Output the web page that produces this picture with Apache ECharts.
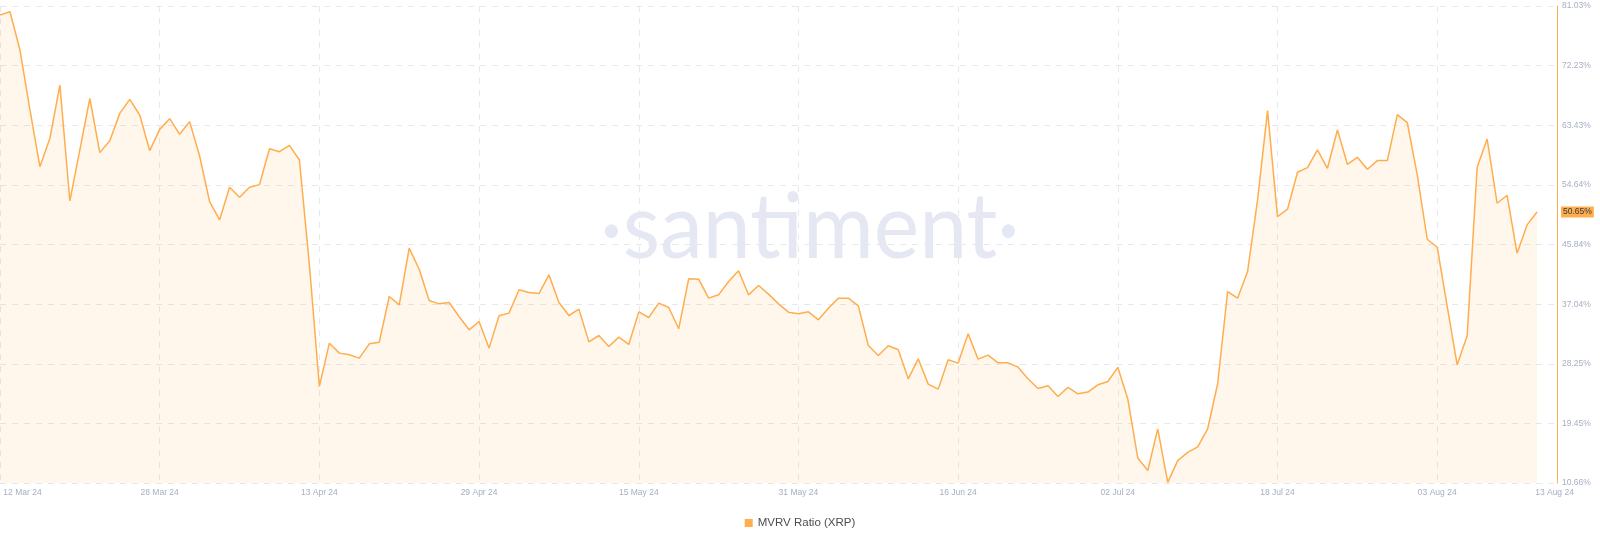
<!DOCTYPE html>
<html>
<head>
<meta charset="utf-8">
<script src="https://cdn.jsdelivr.net/npm/echarts@6/dist/echarts.min.js"></script>
<style>
  html, body { margin: 0; padding: 0; background: #ffffff; }
  #chart { width: 1600px; height: 542px; }
</style>
</head>
<body>
<div id="chart"></div>
<script>
// MVRV Ratio (XRP), daily values in %, 12 Mar 2024 .. 13 Aug 2024
const mar = [79.69, 80.18, 74.53, 65.69, 57.33, 61.51, 69.37, 52.27, 59.79, 67.40,
             59.40, 61.16, 65.19, 67.26, 64.95, 59.69, 62.83, 64.41, 62.10, 63.97];
const apr = [58.90, 52.17, 49.47, 54.28, 52.81, 54.28, 54.68, 59.98, 59.54, 60.48,
             58.31, 42.84, 24.91, 31.29, 29.82, 29.57, 29.08, 31.19, 31.44, 38.17,
             36.94, 45.30, 42.20, 37.58, 37.09, 37.29, 35.22, 33.26, 34.49, 30.56];
const may = [35.32, 35.72, 39.16, 38.76, 38.61, 41.37, 37.29, 35.37, 36.31, 31.49,
             32.42, 30.80, 32.18, 31.10, 35.90, 35.08, 37.19, 36.55, 33.41, 40.78,
             40.73, 37.93, 38.42, 40.38, 41.96, 38.42, 39.79, 38.52, 37.09, 35.86, 35.62];
const jun = [35.91, 34.73, 36.45, 37.93, 37.93, 36.80, 30.95, 29.47, 30.90, 30.31,
             26.03, 28.98, 25.25, 24.51, 28.84, 28.35, 32.67, 28.93, 29.52, 28.39,
             28.39, 27.75, 26.03, 24.61, 25.00, 23.43, 24.76, 23.82, 24.07, 25.15];
const jul = [25.64, 27.71, 23.04, 14.34, 12.50, 18.64, 10.75, 13.97, 15.18, 15.98,
             18.66, 25.30, 38.91, 37.93, 41.86, 52.42, 65.59, 49.96, 51.05, 56.50,
             57.19, 59.79, 57.09, 62.74, 57.68, 58.71, 56.94, 58.22, 58.22, 65.00, 63.82];
const aug = [56.11, 46.62, 45.44, 36.70, 28.10, 32.37, 57.24, 61.41, 51.93, 53.11,
             44.56, 48.74, 50.65];

const yTicks = [10.66, 19.45, 28.25, 37.04, 45.84, 54.64, 63.43, 72.23, 81.03];
const monthNames = ['Jan','Feb','Mar','Apr','May','Jun','Jul','Aug','Sep','Oct','Nov','Dec'];
const startDate = [2024, 2, 12];   // 12 Mar 2024
const labelEvery = 16;
const extraSlots = 2;              // empty room after the last day
const seriesName = 'MVRV Ratio (XRP)';

const values = [].concat(mar, apr, may, jun, jul, aug);
const lastIndex = values.length - 1;
const lastValue = values[lastIndex];

const categories = [];
for (let i = 0; i < values.length + extraSlots; i++) {
  const d = new Date(Date.UTC(startDate[0], startDate[1], startDate[2] + i));
  const dd = String(d.getUTCDate()).padStart(2, '0');
  categories.push(dd + ' ' + monthNames[d.getUTCMonth()] + ' ' + String(d.getUTCFullYear()).slice(2));
}

const orange = '#ffad4d';
const gridColor = '#e6e8f0';
const labelColor = '#a7aec4';
const fontFam = '"Liberation Sans", Arial, sans-serif';

const chart = echarts.init(document.getElementById('chart'), null, { renderer: 'canvas' });
chart.setOption({
  animation: false,
  backgroundColor: '#ffffff',
  grid: { left: 0, right: 43, top: 6, bottom: 59, containLabel: false },
  graphic: [{
    type: 'text',
    x: 810,
    y: 183,
    scaleX: 0.945,
    z: 0,
    silent: true,
    style: {
      text: '·santiment·',
      x: 0,
      y: 0,
      align: 'center',
      verticalAlign: 'top',
      font: '400 91px Lato, "Open Sans", sans-serif',
      fill: '#e5e8f3'
    }
  }],
  legend: {
    bottom: 8,
    left: 'center',
    icon: 'rect',
    itemWidth: 8,
    itemHeight: 8,
    itemGap: 10,
    textStyle: { color: '#4d4d4d', fontSize: 11.5, fontFamily: fontFam },
    data: [seriesName]
  },
  xAxis: {
    type: 'category',
    boundaryGap: false,
    data: categories,
    axisLine: { show: false },
    axisTick: { show: false },
    axisLabel: {
      color: labelColor,
      fontSize: 8.5,
      fontFamily: fontFam,
      margin: 5,
      interval: function (idx) { return idx % labelEvery === 0 || idx === lastIndex; },
      formatter: function (val, idx) {
        if (idx === 0) return '{first|' + val + '}';
        if (idx === lastIndex) return '{last|' + val + '}';
        return val;
      },
      rich: {
        first: { color: labelColor, fontSize: 8.5, fontFamily: fontFam, padding: [0, 0, 0, 45] },
        last: { color: labelColor, fontSize: 8.5, fontFamily: fontFam, padding: [0, 0, 0, 35] }
      }
    },
    splitLine: {
      show: true,
      interval: function (idx) { return idx % labelEvery === 0 && idx <= lastIndex; },
      lineStyle: { color: gridColor, type: [6, 6], width: 1 }
    }
  },
  yAxis: {
    type: 'value',
    position: 'right',
    min: yTicks[0],
    max: yTicks[yTicks.length - 1],
    axisLine: { show: true, lineStyle: { color: orange, width: 1 } },
    axisTick: { show: false, customValues: yTicks },
    axisLabel: {
      customValues: yTicks,
      color: labelColor,
      fontSize: 8.5,
      fontFamily: fontFam,
      margin: 5,
      formatter: function (v) { return v.toFixed(2) + '%'; }
    },
    splitLine: { show: true, lineStyle: { color: gridColor, type: [6, 6], width: 1 } }
  },
  series: [{
    name: seriesName,
    type: 'line',
    data: values,
    symbol: 'none',
    z: 3,
    clip: false,
    lineStyle: { color: orange, width: 1.5 },
    itemStyle: { color: orange },
    areaStyle: { color: 'rgba(255,173,77,0.15)' },
    markLine: {
      silent: true,
      symbol: ['none', 'none'],
      lineStyle: { color: 'rgba(0,0,0,0)', width: 1, type: 'solid' },
      data: [{ yAxis: lastValue }],
      label: {
        show: true,
        position: 'end',
        distance: 4,
        formatter: lastValue.toFixed(2) + '%',
        backgroundColor: orange,
        color: '#3b3b3b',
        fontSize: 8.5,
        fontFamily: fontFam,
        padding: [1, 2, 1, 2]
      }
    }
  }]
});
</script>
</body>
</html>
